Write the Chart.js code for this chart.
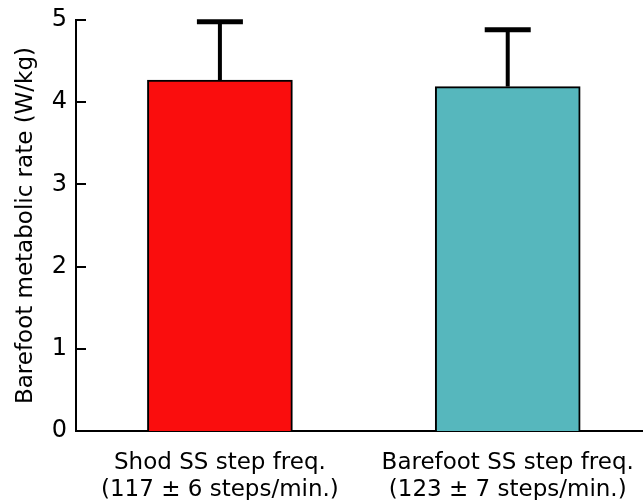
<!DOCTYPE html>
<html>
<head>
<meta charset="utf-8">
<script src="https://cdn.jsdelivr.net/npm/chart.js@4"></script>
<style>
  html, body { margin: 0; padding: 0; background: #fff; }
  #wrap { width: 643px; height: 500px; }
</style>
</head>
<body>
<div id="wrap"><canvas id="chart" width="643" height="500"></canvas></div>
<script>
'use strict';

/* ── Data ───────────────────────────────────────────── */
const categories = [
  ['Shod SS step freq.', '(117 \u00b1 6 steps/min.)'],
  ['Barefoot SS step freq.', '(123 \u00b1 7 steps/min.)']
];
const means     = [4.27, 4.19];
const errorsUp  = [0.71, 0.69];
const barColors = ['#FA0D0D', '#56B7BD'];
const yTicks    = [0, 1, 2, 3, 4, 5];

const FONT = "'DejaVu Sans', Verdana, sans-serif";

/* ── Error bars + inward tick marks ─────────────────── */
const extrasPlugin = {
  id: 'extras',
  afterDatasetsDraw(chart) {
    const { ctx, scales: { x, y } } = chart;
    ctx.save();
    ctx.strokeStyle = '#000';
    ctx.lineCap = 'butt';
    means.forEach((m, i) => {
      const px  = x.getPixelForValue(i);
      const top = y.getPixelForValue(m + errorsUp[i]);
      const bot = y.getPixelForValue(m);
      ctx.lineWidth = 4;
      ctx.beginPath();
      ctx.moveTo(px, bot);
      ctx.lineTo(px, top);
      ctx.stroke();
      ctx.lineWidth = 5;
      ctx.beginPath();
      ctx.moveTo(px - 23, top);
      ctx.lineTo(px + 23, top);
      ctx.stroke();
    });
    // y tick marks pointing into the plot
    const left = chart.chartArea.left;
    ctx.lineWidth = 2;
    yTicks.forEach(v => {
      const py = Math.round(y.getPixelForValue(v));
      ctx.beginPath();
      ctx.moveTo(left, py);
      ctx.lineTo(left + 10, py);
      ctx.stroke();
    });
    ctx.restore();
  }
};

/* ── Chart ──────────────────────────────────────────── */
new Chart(document.getElementById('chart'), {
  type: 'bar',
  data: {
    datasets: [{
      data: means.map((m, i) => ({ x: i, y: m })),
      backgroundColor: barColors,
      borderColor: '#000',
      borderWidth: 2,
      borderSkipped: 'bottom',
      barThickness: 145
    }]
  },
  options: {
    responsive: false,
    animation: false,
    layout: { padding: { top: 20, right: 0, left: 0, bottom: 0 } },
    plugins: { legend: { display: false }, tooltip: { enabled: false } },
    scales: {
      x: {
        type: 'linear',
        offset: false,
        min: -0.5,
        max: 1.47,
        afterBuildTicks: s => { s.ticks = categories.map((_, i) => ({ value: i })); },
        afterFit: s => { s.height = 69; s.paddingLeft = 0; s.paddingRight = 0; },
        grid: { display: false, drawTicks: false },
        border: { display: true, color: '#000', width: 2 },
        ticks: {
          autoSkip: false,
          maxRotation: 0,
          padding: 18,
          color: '#000',
          font: { family: FONT, size: 23, lineHeight: 1.2 },
          callback: v => categories[v] || ''
        }
      },
      y: {
        min: 0,
        max: 5,
        afterBuildTicks: s => { s.ticks = yTicks.map(v => ({ value: v })); },
        afterFit: s => { s.width = 76; s.paddingTop = 0; s.paddingBottom = 0; },
        grid: { display: false, drawTicks: false },
        border: { display: true, color: '#000', width: 2 },
        ticks: {
          padding: 9,
          color: '#000',
          font: { family: FONT, size: 24 }
        },
        title: {
          display: true,
          text: 'Barefoot metabolic rate (W/kg)',
          color: '#000',
          font: { family: FONT, size: 23 },
          padding: { top: 12, bottom: 4 }
        }
      }
    }
  },
  plugins: [extrasPlugin]
});
</script>
</body>
</html>
